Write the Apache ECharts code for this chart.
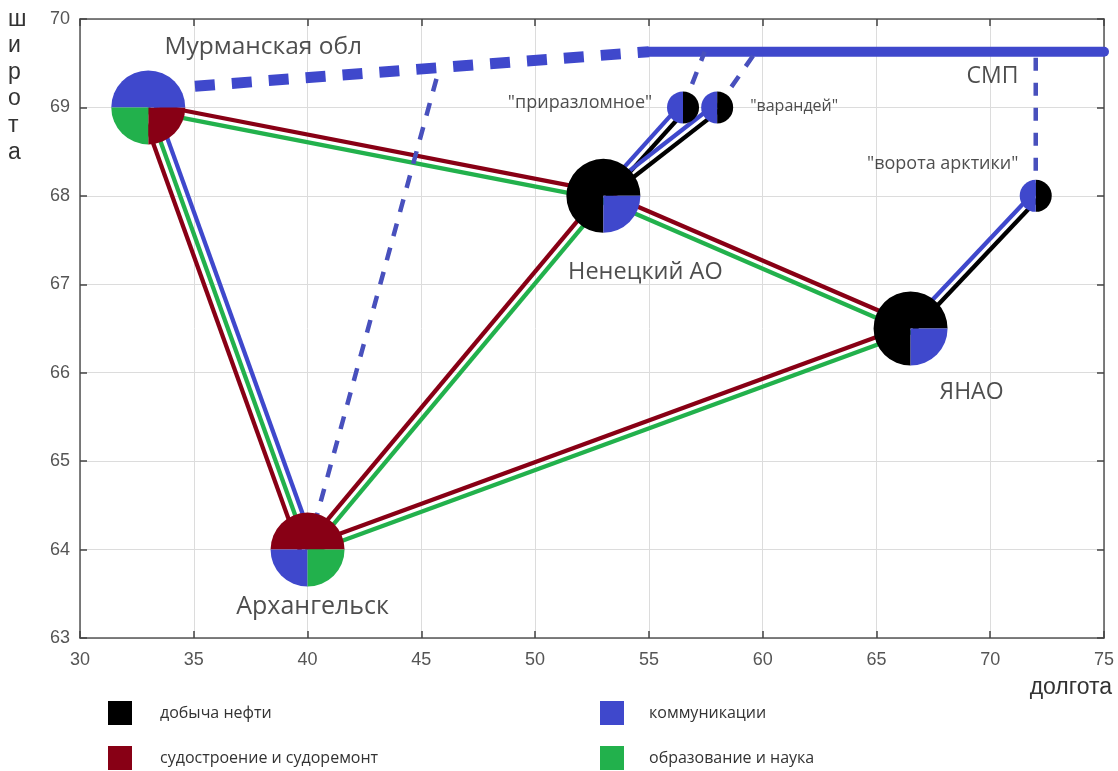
<!DOCTYPE html>
<html>
<head>
<meta charset="utf-8">
<script src="https://cdn.jsdelivr.net/npm/echarts@6.0.0/dist/echarts.min.js"></script>
<style>
html,body{margin:0;padding:0;background:#fff;}
#chart{width:1118px;height:771px;}
</style>
</head>
<body>
<div id="chart"></div>
<script>
// ---------- data ----------
const categories = ['добыча нефти', 'судостроение и судоремонт', 'коммуникации', 'образование и наука'];
const nodeNames = ['Мурманская обл', 'Архангельск', 'Ненецкий АО', 'ЯНАО', '"приразломное"', '"варандей"', '"ворота арктики"'];
const nodeLon = [33, 40, 53, 66.5, 56.5, 58, 72];
const nodeLat = [69, 64, 68, 66.5, 69, 69, 68];
// slices of every node: [category index, share], in drawing order
const nodeSlices = [
  [[2, 0.5], [3, 0.25], [1, 0.25]],
  [[1, 0.5], [2, 0.25], [3, 0.25]],
  [[0, 0.75], [2, 0.25]],
  [[0, 0.75], [2, 0.25]],
  [[2, 0.5], [0, 0.5]],
  [[2, 0.5], [0, 0.5]],
  [[2, 0.5], [0, 0.5]]
];
const nodeKind = ['region', 'region', 'region', 'region', 'field', 'field', 'field'];
// links between nodes and the activities they carry
const edgeFrom = [0, 0, 1, 1, 2, 2, 2, 3];
const edgeTo   = [1, 2, 2, 3, 3, 4, 5, 6];
const edgeCats = [[1, 3, 2], [3, 1], [3, 1], [3, 1], [3, 1], [0, 2], [0, 2], [0, 2]];
// Northern Sea Route (СМП) and links to it
const smpLine = [[55, 69.63], [75, 69.63]];
const murmanskRoute = [[35.05, 69.24], [55, 69.63]];
const dashLinks = [
  [[40, 64], [45.8, 69.45]],
  [[56.5, 69], [57.45, 69.63]],
  [[58, 69], [59.7, 69.63]],
  [[72, 68], [72, 69.63]]
];
const smpLabelPoint = [70.1, 69.63];
const xTicks = {min: 30, max: 75, step: 5};
const yTicks = {min: 63, max: 70, step: 1};

// ---------- style ----------
const catColors = ['#000000', '#880015', '#3F48CC', '#22B14C'];
const pieRadius = {region: 37, field: 16};
const pieStart = [0, 0, 0, 0, 90, 90, 90]; // degrees, counter-clockwise slices
const labelStyle = {
  'Мурманская обл': {offset: [115, -60], size: 24.5},
  'Архангельск': {offset: [5, 57], size: 25},
  'Ненецкий АО': {offset: [42, 76], size: 23.5},
  'ЯНАО': {offset: [61, 64], size: 23},
  '"приразломное"': {offset: [-103, -5], size: 18},
  '"варандей"': {offset: [77, -1], size: 16},
  '"ворота арктики"': {offset: [-93, -32], size: 18}
};
const legendPos = [[108, 701], [108, 746], [600, 701], [600, 746]];
const labelFont = '"Open Sans", "Noto Sans", sans-serif';
const tickFont = '"Liberation Sans", Arial, sans-serif';

const chart = echarts.init(document.getElementById('chart'), null, {renderer: 'canvas'});

function sliceSeries(ci) {
  const data = [];
  nodeNames.forEach((n, i) => {
    if (nodeSlices[i].some(s => s[0] === ci)) data.push([nodeLon[i], nodeLat[i], i]);
  });
  return {
    type: 'custom',
    name: categories[ci],
    coordinateSystem: 'cartesian2d',
    z: 5,
    itemStyle: {color: catColors[ci]},
    encode: {x: 0, y: 1},
    data: data,
    silent: true,
    renderItem: function (params, api) {
      const ni = api.value(2);
      const c = api.coord([api.value(0), api.value(1)]);
      let a = pieStart[ni];
      let a1 = 0, a2 = 0;
      for (const s of nodeSlices[ni]) {
        const span = s[1] * 360;
        if (s[0] === ci) { a1 = a; a2 = a + span; break; }
        a += span;
      }
      const r = pieRadius[nodeKind[ni]];
      return {
        type: 'sector',
        shape: {cx: c[0], cy: c[1], r0: 0, r: r,
          startAngle: -a2 * Math.PI / 180, endAngle: -a1 * Math.PI / 180, clockwise: true},
        style: {fill: catColors[ci]}
      };
    }
  };
}

const edgeData = edgeFrom.map((f, i) => [nodeLon[f], nodeLat[f], nodeLon[edgeTo[i]], nodeLat[edgeTo[i]], i]);

const edgeSeries = {
  type: 'custom',
  coordinateSystem: 'cartesian2d',
  z: 2,
  silent: true,
  encode: {x: [0, 2], y: [1, 3]},
  data: edgeData,
  renderItem: function (params, api) {
    const i = api.value(4);
    const p1 = api.coord([api.value(0), api.value(1)]);
    const p2 = api.coord([api.value(2), api.value(3)]);
    const dx = p2[0] - p1[0], dy = p2[1] - p1[1];
    const L = Math.hypot(dx, dy);
    const nx = -dy / L, ny = dx / L;
    const cats = edgeCats[i];
    const m = cats.length;
    const gap = 7.5;
    return {
      type: 'group',
      children: cats.map((c, k) => {
        const o = ((m - 1) / 2 - k) * gap;
        return {
          type: 'line',
          shape: {x1: p1[0] + nx * o, y1: p1[1] + ny * o, x2: p2[0] + nx * o, y2: p2[1] + ny * o},
          style: {stroke: catColors[c], lineWidth: 4.3}
        };
      })
    };
  }
};

const series = [edgeSeries];
// SMP solid line
series.push({
  type: 'line', data: smpLine, showSymbol: false, symbol: 'none', z: 3, silent: true, clip: false,
  lineStyle: {color: '#3F48CC', width: 10, cap: 'round'}
});
// route Murmansk -> SMP
series.push({
  type: 'line', data: murmanskRoute, showSymbol: false, symbol: 'none', z: 3, silent: true,
  lineStyle: {color: '#3F48CC', width: 11, type: [20, 17], cap: 'butt'}
});
dashLinks.forEach(d => {
  series.push({
    type: 'line', data: d, showSymbol: false, symbol: 'none', z: 3, silent: true,
    lineStyle: {color: '#4850bd', width: 4.5, type: [13, 12]}
  });
});
for (let ci = 0; ci < 4; ci++) series.push(sliceSeries(ci));
// node labels
series.push({
  type: 'scatter', symbolSize: 0, z: 6, silent: true,
  data: nodeNames.map((n, i) => ({
    name: n, value: [nodeLon[i], nodeLat[i]],
    label: {show: true, position: 'inside', formatter: n,
      offset: labelStyle[n].offset, fontSize: labelStyle[n].size,
      fontFamily: labelFont, color: '#222'}
  }))
});
// SMP label
series.push({
  type: 'scatter', symbolSize: 0, z: 6, silent: true,
  data: [{name: 'СМП', value: smpLabelPoint,
    label: {show: true, position: 'inside', formatter: 'СМП', offset: [0, 25],
      fontSize: 23, fontFamily: labelFont, color: '#222'}}]
});

const axisLineStyle = {color: '#555', width: 1.5};
function mkX(pos, main) {
  return {
    type: 'value', min: xTicks.min, max: xTicks.max, interval: xTicks.step, position: pos,
    axisLine: {show: true, onZero: false, lineStyle: axisLineStyle},
    axisTick: {show: true, inside: true, length: 7, lineStyle: {color: '#444', width: 1.5}},
    axisLabel: {show: main, fontSize: 18, color: '#555', margin: 13, fontFamily: tickFont},
    splitLine: {show: main, lineStyle: {color: '#dcdcdc', width: 1}}
  };
}
function mkY(pos, main) {
  return {
    type: 'value', min: yTicks.min, max: yTicks.max, interval: yTicks.step, position: pos,
    axisLine: {show: true, onZero: false, lineStyle: axisLineStyle},
    axisTick: {show: true, inside: true, length: 7, lineStyle: {color: '#444', width: 1.5}},
    axisLabel: {show: main, fontSize: 18, color: '#555', margin: 10, fontFamily: tickFont},
    splitLine: {show: main, lineStyle: {color: '#dcdcdc', width: 1}}
  };
}

const legends = categories.map((c, i) => ({
  left: legendPos[i][0], top: legendPos[i][1], padding: 0, orient: 'horizontal',
  itemWidth: 24, itemHeight: 24, icon: 'rect', selectedMode: false, data: [c],
  textStyle: {fontSize: 16, color: '#333', fontFamily: labelFont, padding: [0, 0, 0, i < 2 ? 23 : 20]}
}));

const option = {
  animation: false,
  backgroundColor: '#ffffff',
  grid: {left: 80, right: 14, top: 19, bottom: 133, containLabel: false},
  xAxis: [mkX('bottom', true), mkX('top', false)],
  yAxis: [mkY('left', true), mkY('right', false)],
  legend: legends,
  graphic: [
    {type: 'text', left: 8, top: 6, style: {text: 'ш\nи\nр\nо\nт\nа', fontSize: 23, lineHeight: 26.6,
      fontFamily: tickFont, fill: '#333', align: 'center'}},
    {type: 'text', right: 6, top: 676, style: {text: 'долгота', fontSize: 23,
      fontFamily: tickFont, fill: '#333'}}
  ],
  series: series
};
chart.setOption(option);
</script>
</body>
</html>
